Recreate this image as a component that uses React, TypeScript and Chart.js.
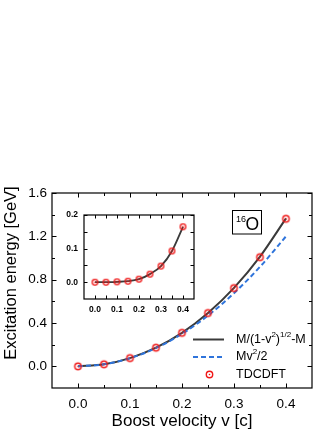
import React, { useEffect, useRef } from "react";
import { Chart, registerables } from "chart.js";

Chart.register(...registerables);

// ---------- data ----------
const velocities = [0, 0.05, 0.1, 0.15, 0.2, 0.25, 0.3, 0.35, 0.4];
const relativisticEnergy = [0, 0.019, 0.076, 0.172, 0.309, 0.492, 0.724, 1.013, 1.366];
const classicalEnergy = [0, 0.019, 0.075, 0.169, 0.3, 0.469, 0.675, 0.919, 1.2];
const tdcdftEnergy = [0, 0.019, 0.076, 0.172, 0.309, 0.492, 0.722, 1.008, 1.362];
const insetCurve = [0, 0, 0.001, 0.003, 0.009, 0.024, 0.048, 0.093, 0.165];
const insetTdcdft = [0, 0, 0.001, 0.003, 0.009, 0.024, 0.048, 0.093, 0.165];

const mainXTicks = [0, 0.1, 0.2, 0.3, 0.4];
const mainYTicks = [0, 0.4, 0.8, 1.2, 1.6];
const mainXMinor = [0, 0.05, 0.1, 0.15, 0.2, 0.25, 0.3, 0.35, 0.4];
const mainYMinor = [0, 0.2, 0.4, 0.6, 0.8, 1.0, 1.2, 1.4, 1.6];
const insetXTicks = [0, 0.1, 0.2, 0.3, 0.4];
const insetYTicks = [0, 0.1, 0.2];
const insetXMinor = [0, 0.05, 0.1, 0.15, 0.2, 0.25, 0.3, 0.35, 0.4];
const insetYMinor = [0, 0.05, 0.1, 0.15, 0.2];

const legendLabels = ["M/(1-v", "Mv", "TDCDFT"];
const xTitle = "Boost velocity v [c]";
const yTitle = "Excitation energy [GeV]";

const FONT = "'Liberation Sans', Arial, Helvetica, sans-serif";
const GRAY = "#3a3a3a";
const BLUE = "#2f74db";
const RED = "#f01818";

function makeMarker(r: number, lw: number): HTMLCanvasElement {
  const size = 2 * Math.ceil(r + lw + 1) + 1;
  const c = document.createElement("canvas");
  c.width = size;
  c.height = size;
  const ctx = c.getContext("2d")!;
  ctx.strokeStyle = RED;
  ctx.lineWidth = lw;
  ctx.beginPath();
  ctx.arc(size / 2, size / 2, r, 0, Math.PI * 2);
  ctx.stroke();
  ctx.fillStyle = RED;
  ctx.beginPath();
  ctx.arc(size / 2, size / 2, 0.8, 0, Math.PI * 2);
  ctx.fill();
  return c;
}

function drawFrameAndTicks(
  chart: any,
  xs: number[],
  xMajor: number[],
  ys: number[],
  yMajor: number[],
  majorLen: number,
  minorLen: number,
  lw: number
) {
  const ctx = chart.ctx;
  const { left, right, top, bottom } = chart.chartArea;
  const sx = chart.scales.x;
  const sy = chart.scales.y;
  ctx.save();
  ctx.strokeStyle = "#000";
  ctx.lineWidth = lw;
  ctx.strokeRect(left, top, right - left, bottom - top);
  ctx.lineWidth = 1;
  ctx.beginPath();
  for (const v of xs) {
    const px = Math.round(sx.getPixelForValue(v)) + 0.5;
    const len = xMajor.includes(v) ? majorLen : minorLen;
    ctx.moveTo(px, bottom);
    ctx.lineTo(px, bottom - len);
    ctx.moveTo(px, top);
    ctx.lineTo(px, top + len);
  }
  for (const v of ys) {
    const py = Math.round(sy.getPixelForValue(v)) + 0.5;
    const len = yMajor.includes(v) ? majorLen : minorLen;
    ctx.moveTo(left, py);
    ctx.lineTo(left + len, py);
    ctx.moveTo(right, py);
    ctx.lineTo(right - len, py);
  }
  ctx.stroke();
  ctx.restore();
}

function drawSupText(ctx: CanvasRenderingContext2D, parts: [string, boolean][], x: number, y: number, size: number, supSize: number) {
  let cx = x;
  for (const [t, sup] of parts) {
    ctx.font = `${sup ? supSize : size}px ${FONT}`;
    ctx.fillText(t, cx, sup ? y - size * 0.38 : y);
    cx += ctx.measureText(t).width;
  }
}

export default function App() {
  const mainRef = useRef<HTMLCanvasElement>(null);
  const insetRef = useRef<HTMLCanvasElement>(null);

  useEffect(() => {
    const mainMarker = makeMarker(3.2, 1.4);
    const insetMarker = makeMarker(2.8, 1.3);

    const mainPlugin = {
      id: "mainDecor",
      afterDraw(chart: any) {
        const ctx = chart.ctx as CanvasRenderingContext2D;
        drawFrameAndTicks(chart, mainXMinor, mainXTicks, mainYMinor, mainYTicks, 4.5, 3, 1.2);
        ctx.save();
        ctx.fillStyle = "#000";
        // axis titles
        ctx.font = `17px ${FONT}`;
        ctx.textAlign = "center";
        ctx.textBaseline = "alphabetic";
        ctx.fillText(xTitle, 182, 426);
        ctx.save();
        ctx.translate(16, 273);
        ctx.rotate(-Math.PI / 2);
        ctx.font = `16.5px ${FONT}`;
        ctx.fillText(yTitle, 0, 0);
        ctx.restore();

        // legend
        ctx.textAlign = "left";
        ctx.textBaseline = "middle";
        ctx.lineWidth = 2;
        ctx.strokeStyle = GRAY;
        ctx.beginPath();
        ctx.moveTo(193, 339.5);
        ctx.lineTo(224, 339.5);
        ctx.stroke();
        ctx.strokeStyle = BLUE;
        ctx.setLineDash([5, 3]);
        ctx.beginPath();
        ctx.moveTo(193, 357);
        ctx.lineTo(224, 357);
        ctx.stroke();
        ctx.setLineDash([]);
        ctx.drawImage(mainMarker, Math.round(209 - mainMarker.width / 2), Math.round(374 - mainMarker.height / 2));
        ctx.fillStyle = "#000";
        drawSupText(ctx, [[legendLabels[0], false], ["2", true], [")", false], ["1/2", true], ["-M", false]], 236, 340, 12.5, 8);
        drawSupText(ctx, [[legendLabels[1], false], ["2", true], ["/2", false]], 236, 357, 12.5, 8);
        drawSupText(ctx, [[legendLabels[2], false]], 236, 374.5, 12.5, 8);

        // 16O box
        ctx.lineWidth = 1;
        ctx.strokeStyle = "#000";
        ctx.strokeRect(232.5, 210.5, 29, 23.5);
        ctx.textBaseline = "alphabetic";
        ctx.font = `9px ${FONT}`;
        ctx.fillText("16", 236, 221.5);
        ctx.font = `17.5px ${FONT}`;
        ctx.fillText("O", 245.5, 229.5);
        ctx.restore();
      },
    };

    const insetPlugin = {
      id: "insetDecor",
      afterDraw(chart: any) {
        drawFrameAndTicks(chart, insetXMinor, insetXTicks, insetYMinor, insetYTicks, 3.5, 3.5, 1.2);
      },
    };

    const main = new Chart(mainRef.current!, {
      type: "line",
      data: {
        datasets: [
          {
            label: "TDCDFT",
            data: velocities.map((v, i) => ({ x: v, y: tdcdftEnergy[i] })),
            showLine: false,
            pointStyle: mainMarker as any,
            pointRadius: 4,
            order: 0,
          },
          {
            label: "Mv2/2",
            data: velocities.map((v, i) => ({ x: v, y: classicalEnergy[i] })),
            borderColor: BLUE,
            borderWidth: 2,
            borderDash: [5, 3],
            pointRadius: 0,
            cubicInterpolationMode: "monotone",
            order: 1,
          },
          {
            label: "M/(1-v2)1/2-M",
            data: velocities.map((v, i) => ({ x: v, y: relativisticEnergy[i] })),
            borderColor: GRAY,
            borderWidth: 2,
            pointRadius: 0,
            cubicInterpolationMode: "monotone",
            order: 2,
          },
        ],
      },
      options: {
        responsive: false,
        animation: false,
        events: [],
        layout: { padding: { top: 193, right: 20, left: 0, bottom: 0 } },
        plugins: { legend: { display: false }, tooltip: { enabled: false }, title: { display: false } },
        scales: {
          x: {
            type: "linear",
            min: -0.05,
            max: 0.45,
            grid: { display: false, drawTicks: false },
            border: { display: false },
            afterBuildTicks: (s: any) => {
              s.ticks = mainXTicks.map((v) => ({ value: v }));
            },
            afterFit: (s: any) => {
              s.height = 42;
            },
            ticks: {
              padding: 8,
              color: "#000",
              font: { family: FONT, size: 13.5 },
              callback: (v: any) => Number(v).toFixed(1),
              maxRotation: 0,
              autoSkip: false,
            },
          },
          y: {
            type: "linear",
            min: -0.2,
            max: 1.6,
            grid: { display: false, drawTicks: false },
            border: { display: false },
            afterBuildTicks: (s: any) => {
              s.ticks = mainYTicks.map((v) => ({ value: v }));
            },
            afterFit: (s: any) => {
              s.width = 52;
            },
            ticks: {
              padding: 5,
              color: "#000",
              font: { family: FONT, size: 13.5 },
              callback: (v: any) => Number(v).toFixed(1),
              autoSkip: false,
            },
          },
        },
      },
      plugins: [mainPlugin],
    });

    const inset = new Chart(insetRef.current!, {
      type: "line",
      data: {
        datasets: [
          {
            label: "TDCDFT",
            data: velocities.map((v, i) => ({ x: v, y: insetTdcdft[i] })),
            showLine: false,
            pointStyle: insetMarker as any,
            pointRadius: 3,
            order: 0,
          },
          {
            label: "difference",
            data: velocities.map((v, i) => ({ x: v, y: insetCurve[i] })),
            borderColor: GRAY,
            borderWidth: 1.8,
            pointRadius: 0,
            cubicInterpolationMode: "monotone",
            order: 1,
          },
        ],
      },
      options: {
        responsive: false,
        animation: false,
        events: [],
        layout: { padding: { top: 215, right: 138, left: 0, bottom: 111 } },
        plugins: { legend: { display: false }, tooltip: { enabled: false }, title: { display: false } },
        scales: {
          x: {
            type: "linear",
            min: -0.05,
            max: 0.45,
            grid: { display: false, drawTicks: false },
            border: { display: false },
            afterBuildTicks: (s: any) => {
              s.ticks = insetXTicks.map((v) => ({ value: v }));
            },
            afterFit: (s: any) => {
              s.height = 20;
            },
            ticks: {
              padding: 6,
              color: "#000",
              font: { family: FONT, size: 8.5, weight: "bold" },
              callback: (v: any) => Number(v).toFixed(1),
              maxRotation: 0,
              autoSkip: false,
            },
          },
          y: {
            type: "linear",
            min: -0.05,
            max: 0.2,
            grid: { display: false, drawTicks: false },
            border: { display: false },
            afterBuildTicks: (s: any) => {
              s.ticks = insetYTicks.map((v) => ({ value: v }));
            },
            afterFit: (s: any) => {
              s.width = 84;
            },
            ticks: {
              padding: 6,
              color: "#000",
              font: { family: FONT, size: 8.5, weight: "bold" },
              callback: (v: any) => Number(v).toFixed(1),
              autoSkip: false,
            },
          },
        },
      },
      plugins: [insetPlugin],
    });

    return () => {
      main.destroy();
      inset.destroy();
    };
  }, []);

  return (
    <div style={{ position: "fixed", left: 0, top: 0, width: 332, height: 430, background: "#fff" }}>
      <canvas ref={mainRef} width={332} height={430} style={{ position: "absolute", left: 0, top: 0 }} />
      <canvas
        ref={insetRef}
        width={332}
        height={430}
        style={{ position: "absolute", left: 0, top: 0, pointerEvents: "none" }}
      />
    </div>
  );
}
